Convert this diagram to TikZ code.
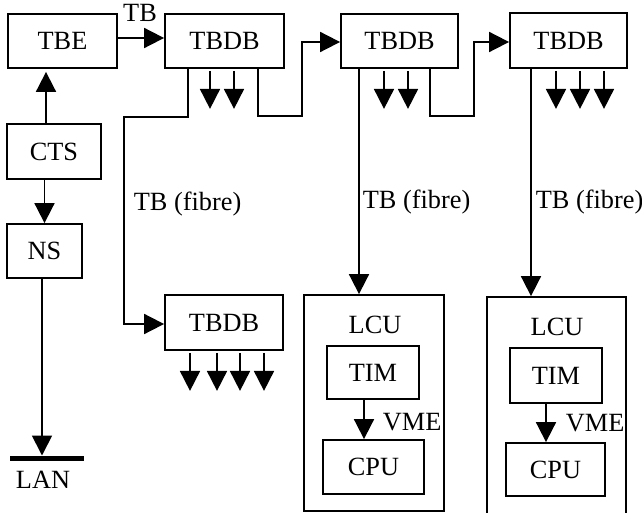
\documentclass[tikz,border=0pt]{standalone}
\usepackage{fontspec}
\setmainfont{Liberation Serif}
\usetikzlibrary{arrows.meta}
\begin{document}
\begin{tikzpicture}[x=1pt,y=-1pt,line width=1.8pt,line join=miter,
  box/.style={draw,rectangle,inner sep=0pt,font=\fontsize{26.3}{30}\selectfont},
  lbl/.style={inner sep=0pt,font=\fontsize{26.3}{30}\selectfont},
  arr/.style={-{Triangle[length=20pt,width=20pt]}},
  stub/.style={arr,shorten <=2pt}]
\useasboundingbox (0,0) rectangle (642,513);
% boxes
\node[box,minimum width=109pt,minimum height=54pt] (TBE) at (62.5,41) {TBE};
\node[box,minimum width=119pt,minimum height=54pt] (TBDB1) at (224.5,41) {TBDB};
\node[box,minimum width=117pt,minimum height=54pt] (TBDB2) at (399.5,41) {TBDB};
\node[box,minimum width=117pt,minimum height=55pt] (TBDB3) at (568.5,40.5) {TBDB};
\node[box,minimum width=118pt,minimum height=55pt] (TBDB4) at (224,322.5) {TBDB};
\node[box,minimum width=94pt,minimum height=55pt] (CTS) at (54,151.5) {CTS};
\node[box,minimum width=75pt,minimum height=54pt] (NS) at (44.5,251) {NS};
\node[box,minimum width=140pt,minimum height=216pt] (LCU1) at (374,403) {};
\node[box,minimum width=92pt,minimum height=53pt] (TIM1) at (373,372.5) {TIM};
\node[box,minimum width=101pt,minimum height=54pt] (CPU1) at (373.5,467) {CPU};
\node[box,minimum width=139pt,minimum height=218pt] (LCU2) at (556.5,406) {};
\node[box,minimum width=92pt,minimum height=55pt] (TIM2) at (556,375.5) {TIM};
\node[box,minimum width=99pt,minimum height=53pt] (CPU2) at (555.5,469.5) {CPU};
% labels
\node[lbl] (tbl) at (140,13) {TB};
\node[lbl,anchor=west] (f1l) at (133,204) {TB (fibre)};
\node[lbl,anchor=west] (f2l) at (362,202) {TB (fibre)};
\node[lbl,anchor=west] (f3l) at (535,202) {TB (fibre)};
\node[lbl] (lcu1l) at (375,325) {LCU};
\node[lbl] (lcu2l) at (557,327) {LCU};
\node[lbl,anchor=west] (vme1) at (382,422) {VME};
\node[lbl,anchor=west] (vme2) at (565,423) {VME};
\node[lbl] (lanl) at (43,480) {LAN};
% LAN bar
\coordinate (lanL) at (10,458);
\coordinate (lanR) at (84,458);
\draw[line width=5pt] (lanL) -- (lanR);
\coordinate (lan) at (42,455.5);
% connectors
\draw[arr] ([yshift=3pt]TBE.east) -- ([yshift=3pt]TBDB1.west);
\draw[arr] ([xshift=-8pt]CTS.north) -- ([xshift=-8pt,yshift=-3pt]CTS.north |- TBE.south);
\draw[arr] (NS.north |- CTS.south) -- (NS.north);
\draw[arr] (NS.south -| lan) -- (lan);
\coordinate (c1) at (124,117);
\draw[arr] (TBDB1.south -| 188,0) |- (c1) |- ([yshift=-1.5pt]TBDB4.west);
\coordinate (c2) at (302,116);
\draw[arr] (TBDB1.south -| 258,0) |- (c2) |- ([yshift=-1pt]TBDB2.west);
\coordinate (c3) at (474,116);
\draw[arr] (TBDB2.south -| 430,0) |- (c3) |- ([yshift=-1.5pt]TBDB3.west);
\draw[arr] (TBDB2.south -| 359,0) -- (LCU1.north -| 359,0);
\draw[arr] (TBDB3.south -| 531,0) -- (LCU2.north -| 531,0);
\draw[arr] (TIM1.south -| 364,0) -- (CPU1.north -| 364,0);
\draw[arr] (TIM2.south -| 546,0) -- (CPU2.north -| 546,0);
% stubs
\foreach \x in {210,234} \draw[stub] (TBDB1.south -| \x,0) -- ++(0,40);
\foreach \x in {384,408} \draw[stub] (TBDB2.south -| \x,0) -- ++(0,40);
\foreach \x in {556,580,604} \draw[stub] (TBDB3.south -| \x,0) -- ++(0,40);
\foreach \x in {190,217,240,264} \draw[stub] (TBDB4.south -| \x,0) -- ++(0,40);
\end{tikzpicture}
\end{document}
